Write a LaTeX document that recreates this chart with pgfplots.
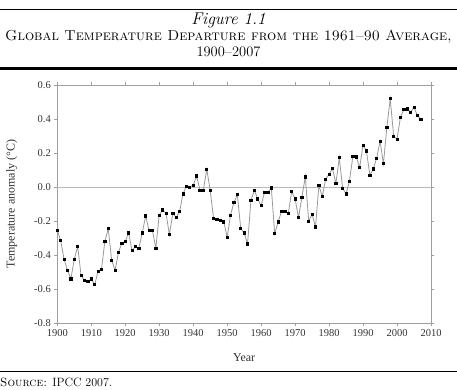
\documentclass[border=0pt]{standalone}
\usepackage{fontspec}
\newfontfamily\chartfont{Liberation Serif}
\usepackage{pgfplots}
\usepackage{pgfplotstable}
\pgfplotsset{compat=1.18}
\pgfplotstableread{
year anomaly
1900 -0.253
1901 -0.316
1902 -0.425
1903 -0.49
1904 -0.54
1905 -0.425
1906 -0.35
1907 -0.52
1908 -0.55
1909 -0.555
1910 -0.54
1911 -0.575
1912 -0.495
1913 -0.485
1914 -0.32
1915 -0.245
1916 -0.43
1917 -0.49
1918 -0.385
1919 -0.33
1920 -0.32
1921 -0.27
1922 -0.375
1923 -0.35
1924 -0.36
1925 -0.27
1926 -0.17
1927 -0.255
1928 -0.255
1929 -0.36
1930 -0.165
1931 -0.135
1932 -0.155
1933 -0.28
1934 -0.155
1935 -0.18
1936 -0.145
1937 -0.04
1938 0.005
1939 0.0
1940 0.01
1941 0.065
1942 -0.018
1943 -0.018
1944 0.105
1945 -0.02
1946 -0.185
1947 -0.19
1948 -0.195
1949 -0.205
1950 -0.295
1951 -0.165
1952 -0.09
1953 -0.045
1954 -0.245
1955 -0.27
1956 -0.335
1957 -0.078
1958 -0.02
1959 -0.07
1960 -0.11
1961 -0.03
1962 -0.03
1963 -0.005
1964 -0.275
1965 -0.205
1966 -0.145
1967 -0.145
1968 -0.155
1969 -0.025
1970 -0.07
1971 -0.18
1972 -0.06
1973 0.06
1974 -0.2
1975 -0.16
1976 -0.235
1977 0.008
1978 -0.055
1979 0.047
1980 0.075
1981 0.11
1982 0.02
1983 0.172
1984 -0.008
1985 -0.04
1986 0.035
1987 0.18
1988 0.177
1989 0.114
1990 0.247
1991 0.212
1992 0.07
1993 0.106
1994 0.17
1995 0.27
1996 0.137
1997 0.35
1998 0.52
1999 0.30
2000 0.28
2001 0.41
2002 0.455
2003 0.46
2004 0.44
2005 0.47
2006 0.42
2007 0.40
}\tempdata
\begin{document}
\begin{tikzpicture}[x=1pt,y=1pt]
\useasboundingbox (0,0) rectangle (457,389);
\draw[line width=0.9pt] (0,379.7) -- (457,379.7);
\node[font=\fontsize{17}{19}\selectfont\itshape] at (228.5,369) {Figure 1.1};
\node[font=\fontsize{14.5}{16}\selectfont] at (228.5,352) {\textsc{Global Temperature Departure from the 1961--90 Average,}};
\node[font=\fontsize{14.5}{16}\selectfont] at (228.5,337) {1900--2007};
\draw[line width=2.2pt] (0,320.5) -- (457,320.5);
\begin{axis}[
  at={(57.3pt,66pt)}, anchor=south west, scale only axis,
  width=373.7pt, height=238pt,
  xmin=1900, xmax=2010, ymin=-0.8, ymax=0.6,
  xtick={1900,1910,...,2010},
  ytick={-0.8,-0.6,-0.4,-0.2,0,0.2,0.4,0.6},
  /pgf/number format/assume math mode=true,
  tick label style={font=\chartfont\fontsize{10.5}{12}\selectfont, text=black!80},
  xticklabel style={/pgf/number format/1000 sep={}},
  yticklabel style={/pgf/number format/.cd, fixed, fixed zerofill, precision=1},
  axis line style={gray!75, line width=0.9pt},
  tick style={gray!75},
  tick align=outside, major tick length=3pt,
  xlabel={Year},
  ylabel={Temperature anomaly (°C)},
  label style={font=\chartfont\fontsize{12}{14}\selectfont, text=black!80},
  ylabel style={at={(axis description cs:-0.098,0.5)}},
  xlabel style={at={(axis description cs:0.5,-0.115)}},
  clip=false,
]
\addplot[gray!55, line width=0.8pt, no marks, forget plot] coordinates {(1900,0) (2010,0)};
\addplot[color=gray!80, line width=0.8pt, mark=square*, mark size=1.1pt, mark options={black, fill=black}] table[x=year, y=anomaly] {\tempdata};
\end{axis}
\draw[line width=0.9pt] (0,18) -- (457,18);
\node[anchor=west, inner sep=0pt, font=\fontsize{12}{14}\selectfont] at (0,7) {\textsc{Source:} IPCC 2007.};
\end{tikzpicture}
\end{document}
